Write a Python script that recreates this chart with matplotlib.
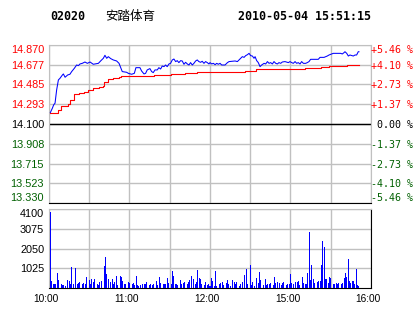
import matplotlib
matplotlib.use("Agg")
import matplotlib.pyplot as plt
from matplotlib.transforms import ScaledTranslation

# header
stock_code = "02020"
stock_name = "安踏体育"
stamp = "2010-05-04 15:51:15"
prev_close = 14.100

# axis levels / labels
price_levels = [13.330, 13.523, 13.715, 13.908, 14.100, 14.293, 14.485, 14.677, 14.870]
pct_labels = ["-5.46 %", "-4.10 %", "-2.73 %", "-1.37 %", " 0.00 %",
              "+1.37 %", "+2.73 %", "+4.10 %", "+5.46 %"]
vol_levels = [1025, 2050, 3075, 4100]
time_grid = [0, 30, 60, 90, 120, 150, 180, 210, 240]
time_labels = ["10:00", "", "11:00", "", "12:00", "", "15:00", "", "16:00"]

# price line (minutes after 10:00, trading time only)
price_min = [1, 2.5, 3.5, 4.5, 5.7, 7, 8.2, 10, 10.7, 12, 13.9, 15.6, 16.9, 18.9,
             20.6, 21.9, 23.1, 24.8, 26.8, 28.6, 30.6, 33, 34.3, 36.8, 38.7, 40.5,
             41.7, 43, 44.2, 46, 47.9, 50.4, 52.2, 53.6, 54.6, 57.9, 59.1,
             61.6, 63.6, 64.8, 67.8, 69, 70.8, 72, 73.2, 75.2, 76.5, 77.7, 79, 80.7,
             81.9, 83.2, 84.4, 85.7, 86.9, 88.1, 89.4, 90.6, 91.9, 93.1, 94.4, 95.6,
             96.8, 98.1, 99.3, 100.6, 101.8, 103.1, 104.3, 105.5, 106.8, 108, 109.3,
             110.5, 111.7, 113, 114.2, 115.5, 116.7, 118, 119.2,
             120, 121.3, 122.5, 123.8, 125, 126.2, 127.5, 128.7, 131.2, 133, 134.2,
             138.7, 140.4, 141.6, 142.9, 144.1, 145.4, 146.6, 147.9, 149.1, 150.3,
             151.6, 152.8, 153.6, 154.8, 156, 157.3, 158.5, 160.3, 161.5, 162.8, 164,
             165.2, 166.5, 167.7, 169, 170.2, 171.4, 172.7, 173.9, 175.9,
             178.4, 179.6, 180.9, 182.1, 183.4, 184.6, 185.8, 187.1, 188.3, 189.6,
             191.3, 192.5, 193.8, 195, 200.7, 202, 205, 206.2, 207.4, 208.7, 210.7,
             211.9, 217.4, 218.6, 219.9, 220.6, 221.9, 223.1, 224.3, 226.8, 228.1,
             229.3, 230.5, 231]
price_val = [14.211, 14.253, 14.286, 14.302, 14.431, 14.528, 14.544, 14.576, 14.586,
             14.554, 14.576, 14.583, 14.609, 14.641, 14.673, 14.667, 14.683, 14.689,
             14.702, 14.689, 14.702, 14.680, 14.683, 14.689, 14.715, 14.738, 14.767,
             14.738, 14.754, 14.735, 14.722, 14.712, 14.689, 14.641, 14.609, 14.602,
             14.592,
             14.583, 14.592, 14.647, 14.647, 14.615, 14.586, 14.592, 14.625, 14.638,
             14.609, 14.599, 14.625, 14.625, 14.647, 14.634, 14.663, 14.657, 14.673,
             14.657, 14.683, 14.689, 14.722, 14.731, 14.706, 14.715, 14.696, 14.715,
             14.712, 14.680, 14.699, 14.683, 14.673, 14.696, 14.673, 14.689, 14.712,
             14.722, 14.706, 14.699, 14.709, 14.689, 14.706, 14.696, 14.683,
             14.696, 14.683, 14.689, 14.676, 14.689, 14.680, 14.689, 14.673, 14.673,
             14.696, 14.706, 14.712, 14.706, 14.722, 14.738, 14.754, 14.747, 14.764,
             14.773, 14.786, 14.764, 14.760, 14.738, 14.754, 14.715, 14.696, 14.657,
             14.673, 14.689, 14.683, 14.706, 14.689, 14.696, 14.683, 14.706, 14.689,
             14.683, 14.696, 14.689, 14.702, 14.706,
             14.696, 14.706, 14.696, 14.689, 14.706, 14.689, 14.696, 14.683, 14.706,
             14.689, 14.689, 14.696, 14.706, 14.728, 14.728, 14.747, 14.747, 14.754,
             14.760, 14.770, 14.780, 14.786, 14.786, 14.780, 14.793, 14.802, 14.786,
             14.760, 14.770, 14.760, 14.770, 14.770, 14.802, 14.802]

# average price (step line)
avg_min = [1, 7, 9, 12, 14, 16, 19, 22, 26, 29, 33, 37, 40, 41, 44, 48, 52, 54,
           78, 91, 101, 110, 124, 146, 154, 191, 203, 209, 222, 231]
avg_val = [14.211, 14.237, 14.270, 14.279, 14.295, 14.334, 14.389, 14.399, 14.415,
           14.431, 14.454, 14.463, 14.473, 14.512, 14.538, 14.550, 14.560, 14.567,
           14.576, 14.586, 14.592, 14.602, 14.609, 14.618, 14.631, 14.641, 14.657,
           14.664, 14.673, 14.673]

# volume bars
vol_min = [1, 2, 3, 4, 5, 6, 7, 9, 10, 11, 12, 14, 15, 16, 17, 18, 20, 21, 22, 23,
           25, 26, 27, 28, 30, 31, 32, 33, 34, 36, 37, 38, 39, 41, 42, 43, 44, 46,
           47, 48, 49, 50, 51, 53, 54, 55, 56, 57, 59, 60,
           62, 63, 64, 65, 66, 67, 68, 70, 71, 72, 73, 75, 76, 77, 78, 80, 81, 82,
           83, 85, 86, 87, 88, 89, 91, 92, 93, 94, 95, 96, 98, 99, 100, 101, 103,
           104, 105, 106, 108, 109, 110, 111, 112, 113, 114, 116, 117, 118, 119,
           120, 121, 122, 123, 124, 125, 127, 128, 129, 130, 132, 133, 134, 135,
           137, 138, 139, 140, 142, 143, 144, 146, 147, 148, 150,
           151, 152, 153, 155, 156, 157, 158, 160, 161, 162, 163, 164, 165, 167,
           168, 169, 170, 172, 173, 174, 175, 177, 178, 179, 180, 181, 182, 184,
           185, 186, 187, 189, 190, 191, 192, 193, 194, 195, 196, 197, 198, 200,
           201, 202, 203, 204, 205, 206, 207, 208, 209, 210, 212, 213, 214, 215,
           216, 218, 219, 220, 221, 222, 223, 224, 225, 226, 227, 228, 229, 230, 231]
vol_val = [3975, 365, 190, 190, 190, 780, 420, 190, 160, 160, 120, 420, 365, 190,
           1095, 190, 1040, 190, 245, 295, 225, 245, 210, 590, 420, 190, 470, 295,
           470, 190, 160, 295, 365, 1160, 1615, 730, 470, 295, 470, 190, 295, 625,
           160, 625, 590, 365, 190, 225, 295, 245,
           191, 278, 156, 643, 156, 122, 156, 191, 191, 191, 295, 156, 191, 156, 191,
           365, 156, 590, 243, 191, 191, 191, 538, 243, 191, 885, 643, 191, 191, 156,
           417, 191, 243, 295, 191, 295, 417, 643, 469, 191, 330, 937, 538, 469, 191,
           156, 295, 156, 191,
           122, 504, 365, 122, 886, 122, 191, 243, 330, 156, 243, 417, 191, 122,
           417, 295, 191, 330, 122, 191, 295, 677, 990, 191, 1198,
           156, 330, 104, 504, 243, 851, 417, 156, 469, 156, 208, 208, 243, 156, 573,
           243, 330, 243, 156, 260, 330, 156, 208, 208, 729, 243, 208, 330, 330, 382,
           156, 573, 243, 208, 208, 799, 2900, 417, 1198, 469, 243, 330, 365, 382,
           1198, 2448, 2118, 469, 469, 243, 573, 504, 208, 208, 243, 208, 243, 208,
           243, 538, 799, 573, 1511, 382, 243, 382, 382, 208, 990, 156, 100]

RED = "#ff0000"
GREEN = "#006000"
GRID = "#c0c0c0"
W, H = 414, 314

fig = plt.figure(figsize=(W / 100, H / 100), dpi=100)
fig.patch.set_facecolor("white")

ax1 = fig.add_axes([49 / W, 1 - 203.3 / H, 322 / W, 158.6 / H])
ax2 = fig.add_axes([49 / W, 1 - 288 / H, 322 / W, 78.7 / H])

# ---- price panel
ax1.plot(avg_min, avg_val, color=RED, lw=0.8, drawstyle="steps-post", zorder=3)
ax1.plot(price_min, price_val, color="#0000ff", lw=0.75, zorder=4)
ax1.axhline(prev_close, color="black", lw=1, zorder=2)
ax1.set_xlim(0, 240)
ax1.set_ylim(price_levels[0], price_levels[-1])
ax1.set_xticks(time_grid)
ax1.set_yticks(price_levels)
ax1.set_yticklabels([f"{v:.3f}" for v in price_levels])
ax1.grid(color=GRID, lw=1)
ax1.tick_params(length=0, labelbottom=False, pad=3.5, labelsize=7.8)
for lab, v in zip(ax1.get_yticklabels(), price_levels):
    lab.set_family("Liberation Sans")
    lab.set_color(RED if v > prev_close else ("black" if v == prev_close else GREEN))
ax1.get_yticklabels()[-1].set_va("top")
ax1.get_yticklabels()[0].set_va("bottom")
for s in ("left", "top", "right"):
    ax1.spines[s].set_color(GRID)
ax1.spines["bottom"].set_color("black")

tw = ax1.twinx()
tw.set_ylim(price_levels[0], price_levels[-1])
tw.set_yticks(price_levels)
tw.set_yticklabels(pct_labels)
tw.tick_params(length=0, pad=0.3, labelsize=7.2)
for lab, v in zip(tw.get_yticklabels(), price_levels):
    lab.set_family("DejaVu Sans Mono")
    lab.set_color(RED if v > prev_close else ("black" if v == prev_close else GREEN))
tw.get_yticklabels()[-1].set_va("top")
tw.get_yticklabels()[0].set_va("bottom")
for s in tw.spines.values():
    s.set_visible(False)

# ---- volume panel
ax2.bar(vol_min, vol_val, width=0.75, color="#0000ff", zorder=3)
ax2.set_xlim(0, 240)
ax2.set_ylim(0, vol_levels[-1])
ax2.set_yticks(vol_levels)
ax2.set_xticks(time_grid)
ax2.set_xticklabels(time_labels)
ax2.grid(color=GRID, lw=1)
ax2.tick_params(length=0, labelsize=7.8)
ax2.tick_params(axis="x", pad=4, labelsize=7.3)
ax2.tick_params(axis="y", pad=3.5)
shift = ScaledTranslation(-3 / 100, 0, fig.dpi_scale_trans)
for lab in ax2.get_xticklabels():
    lab.set_family("Liberation Sans")
    lab.set_transform(lab.get_transform() + shift)
for lab in ax2.get_yticklabels():
    lab.set_family("Liberation Sans")
ax2.get_yticklabels()[-1].set_va("top")
for s in ("left", "top"):
    ax2.spines[s].set_color(GRID)
ax2.spines["right"].set_color("black")
ax2.spines["bottom"].set_color("black")

# ---- header
ty = 1 - 16.5 / H
fig.text(50 / W, ty, stock_code, family="DejaVu Sans Mono", weight="bold",
         fontsize=8.4, va="center")
fig.text(105 / W, ty, stock_name, family=["Noto Sans CJK SC", "DejaVu Sans"],
         fontsize=9, va="center")
fig.text(371 / W, ty, stamp, family="DejaVu Sans Mono", weight="bold",
         fontsize=8.4, va="center", ha="right")

fig.savefig("out.png", dpi=100)
